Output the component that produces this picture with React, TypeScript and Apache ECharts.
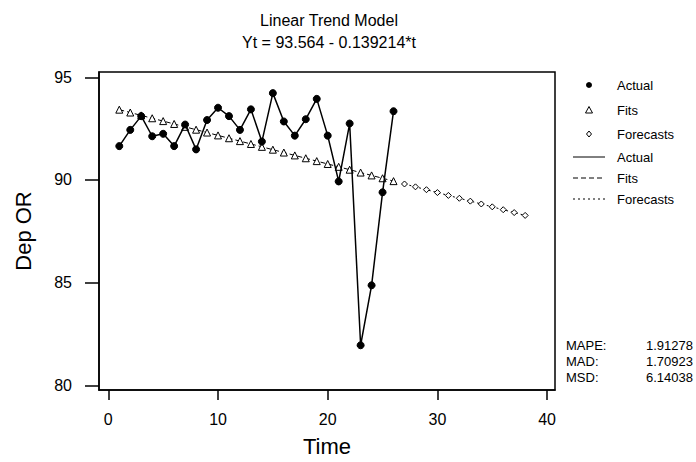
import React, { useEffect, useRef } from "react";
import * as echarts from "echarts";

const FONT = "'Liberation Sans', Arial, sans-serif";

const titleLines = ["Linear Trend Model", "Yt = 93.564 - 0.139214*t"];
const xTicks = [0, 10, 20, 30, 40];
const yTicks = [80, 85, 90, 95];

const actualTime = [1, 2, 3, 4, 5, 6, 7, 8, 9, 10, 11, 12, 13, 14, 15, 16, 17, 18, 19, 20, 21, 22, 23, 24, 25, 26];
const actualValues = [91.65, 92.44, 93.11, 92.13, 92.25, 91.65, 92.7, 91.49, 92.92, 93.52, 93.11, 92.44, 93.44, 91.87, 94.23, 92.85, 92.16, 92.96, 93.95, 92.16, 89.93, 92.75, 81.95, 84.87, 89.4, 93.35];
const fitValues = [93.425, 93.286, 93.146, 93.007, 92.868, 92.729, 92.589, 92.45, 92.311, 92.172, 92.033, 91.893, 91.754, 91.615, 91.476, 91.337, 91.197, 91.058, 90.919, 90.78, 90.641, 90.501, 90.362, 90.223, 90.084, 89.944];
const forecastTime = [27, 28, 29, 30, 31, 32, 33, 34, 35, 36, 37, 38];
const forecastValues = [89.805, 89.666, 89.527, 89.388, 89.248, 89.109, 88.97, 88.831, 88.692, 88.552, 88.413, 88.274];

const legendLabels = ["Actual", "Fits", "Forecasts", "Actual", "Fits", "Forecasts"];
const statLabels = ["MAPE:", "MAD:", "MSD:"];
const statValues = ["1.91278", "1.70923", "6.14038"];

export default function App() {
  const ref = useRef<HTMLDivElement>(null);
  useEffect(() => {
    document.body.style.margin = "0";
    const chart = echarts.init(ref.current!, null, { renderer: "svg" });
    const legendY = [85, 110, 134, 157, 178, 199];
    const symX = 589;
    const textX = 617;
    const graphics: any[] = [];
    graphics.push({ type: "circle", shape: { cx: symX, cy: legendY[0], r: 3 }, style: { fill: "#000" } });
    graphics.push({
      type: "polygon",
      shape: { points: [[symX, legendY[1] - 3.5], [symX - 3.5, legendY[1] + 3], [symX + 3.5, legendY[1] + 3]] },
      style: { fill: "#fff", stroke: "#000", lineWidth: 1 },
    });
    graphics.push({
      type: "polygon",
      shape: { points: [[symX, legendY[2] - 3], [symX + 2.5, legendY[2]], [symX, legendY[2] + 3], [symX - 2.5, legendY[2]]] },
      style: { fill: "#fff", stroke: "#000", lineWidth: 1 },
    });
    const dashes: any[] = [null, [5, 3], [2, 3]];
    for (let i = 0; i < 3; i++) {
      graphics.push({
        type: "line",
        shape: { x1: 573, y1: legendY[3 + i], x2: 605, y2: legendY[3 + i] },
        style: { stroke: "#000", lineWidth: 1, lineDash: dashes[i] },
      });
    }
    legendLabels.forEach((t, i) => {
      graphics.push({
        type: "text",
        x: textX,
        y: legendY[i],
        style: { text: t, font: `13px ${FONT}`, fill: "#000", verticalAlign: "middle", align: "left" },
      });
    });
    const statY = [345, 361, 377];
    statLabels.forEach((t, i) => {
      graphics.push({
        type: "text",
        x: 566,
        y: statY[i],
        style: { text: t, font: `13px ${FONT}`, fill: "#000", verticalAlign: "middle", align: "left" },
      });
      graphics.push({
        type: "text",
        x: 693,
        y: statY[i],
        style: { text: statValues[i], font: `13px ${FONT}`, fill: "#000", verticalAlign: "middle", align: "right" },
      });
    });
    titleLines.forEach((t, i) => {
      graphics.push({
        type: "text",
        x: 329,
        y: 20 + i * 22,
        style: { text: t, font: `16px ${FONT}`, fill: "#000", verticalAlign: "middle", align: "center" },
      });
    });

    chart.setOption({
      animation: false,
      backgroundColor: "#fff",
      textStyle: { fontFamily: FONT },
      grid: { left: 99, right: 141, top: 72, bottom: 69, show: true, borderColor: "#000", borderWidth: 1.5, backgroundColor: "transparent" },
      xAxis: {
        type: "value",
        min: -0.85,
        max: 40.72,
        name: "Time",
        nameLocation: "middle",
        nameGap: 45,
        nameTextStyle: { fontSize: 22, color: "#000", fontFamily: FONT },
        axisLine: { show: true, onZero: false, lineStyle: { color: "#000", width: 1.5 } },
        axisTick: { show: true, length: 10, customValues: xTicks, lineStyle: { color: "#000", width: 1.5 } },
        axisLabel: { customValues: xTicks, margin: 21, fontSize: 16, color: "#000", fontFamily: FONT },
        splitLine: { show: false },
      },
      yAxis: {
        type: "value",
        min: 79.77,
        max: 95.26,
        name: "Dep OR",
        nameLocation: "middle",
        nameGap: 65,
        nameTextStyle: { fontSize: 22, color: "#000", fontFamily: FONT },
        axisLine: { show: true, onZero: false, lineStyle: { color: "#000", width: 1.5 } },
        axisTick: { show: true, length: 14, customValues: yTicks, lineStyle: { color: "#000", width: 1.5 } },
        axisLabel: { customValues: yTicks, margin: 27, fontSize: 16, color: "#000", fontFamily: FONT },
        splitLine: { show: false },
      },
      graphic: graphics,
      series: [
        {
          name: "Fits",
          type: "line",
          data: actualTime.map((t, i) => [t, fitValues[i]]),
          symbol: "triangle",
          symbolSize: 7,
          showAllSymbol: true,
          itemStyle: { color: "#fff", borderColor: "#000", borderWidth: 1 },
          lineStyle: { color: "#000", width: 1, type: [5, 3] },
          z: 2,
        },
        {
          name: "Forecasts",
          type: "line",
          data: forecastTime.map((t, i) => [t, forecastValues[i]]),
          symbol: "diamond",
          symbolSize: 6,
          showAllSymbol: true,
          itemStyle: { color: "#fff", borderColor: "#000", borderWidth: 1 },
          lineStyle: { color: "#000", width: 1, type: [2, 3] },
          z: 2,
        },
        {
          name: "Actual",
          type: "line",
          data: actualTime.map((t, i) => [t, actualValues[i]]),
          symbol: "circle",
          symbolSize: 7,
          showAllSymbol: true,
          itemStyle: { color: "#000", borderColor: "#000" },
          lineStyle: { color: "#000", width: 1.5 },
          z: 3,
        },
      ],
    });
    return () => chart.dispose();
  }, []);
  return <div ref={ref} style={{ width: 696, height: 462 }} />;
}
